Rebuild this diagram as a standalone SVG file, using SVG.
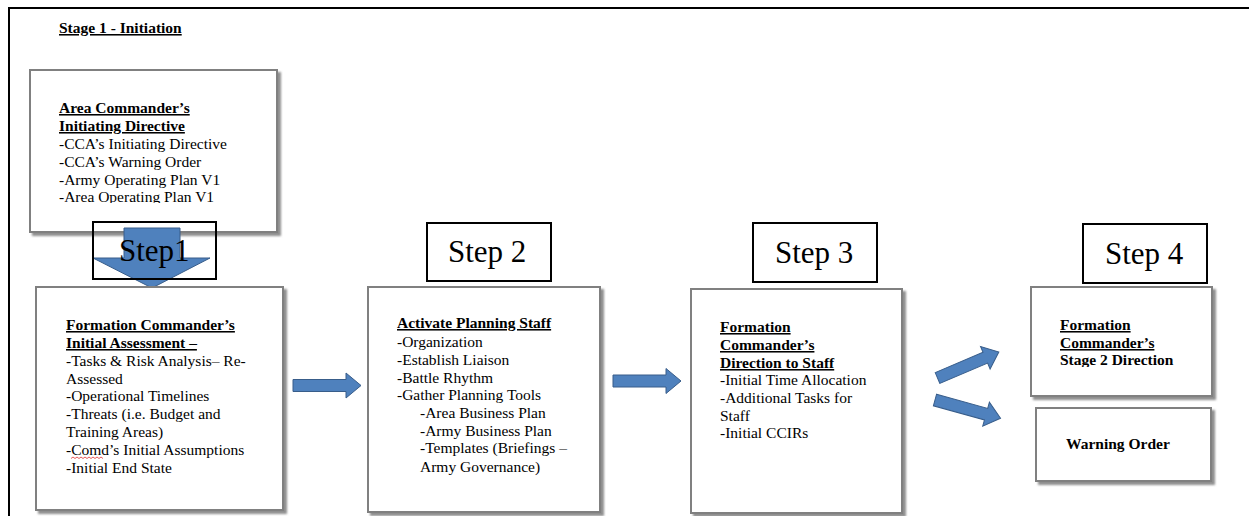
<svg xmlns="http://www.w3.org/2000/svg" width="1249" height="516" viewBox="0 0 1249 516">
  <style>
    .box { fill: #ffffff; stroke: #808080; stroke-width: 2; filter: url(#shadow); }
    .step { fill: none; stroke: #000000; stroke-width: 2; }
    .txt { font-family: "Liberation Serif", "Times New Roman", serif; font-size: 15.5px; fill: #000000; }
    .hd { font-weight: bold; text-decoration: underline; }
    .bd { font-weight: bold; }
    .steptxt { font-family: "Liberation Serif", "Times New Roman", serif; font-size: 31px; fill: #000000; }
    .arrow { fill: #4f81bd; stroke: #385d8a; stroke-width: 1; }
  </style>
  <defs>
    <filter id="shadow" x="-10%" y="-10%" width="125%" height="125%">
      <feDropShadow dx="3" dy="3" stdDeviation="1.3" flood-color="#7a7a7a" flood-opacity="0.85"/>
    </filter>
    <path id="block-arrow" d="M0,-6 H53 V-12.5 L68,0 L53,12.5 V6 H0 Z"/>
    <clipPath id="clip-area"><rect x="30" y="70" width="247" height="133"/></clipPath>
    <clipPath id="clip-stage2"><rect x="1031" y="287" width="181" height="80"/></clipPath>
    <clipPath id="clip-wo"><rect x="1036" y="408" width="175" height="44"/></clipPath>
  </defs>

  <rect width="1249" height="516" fill="#ffffff"/>
  <!-- page frame -->
  <path d="M9,516 V8 H1249" fill="none" stroke="#000000" stroke-width="2"/>

  <text class="txt hd" x="59" y="33" font-size="14.5">Stage 1 - Initiation</text>

  <g id="area-directive">
    <rect class="box" x="30" y="70" width="247" height="162"/>
    <g clip-path="url(#clip-area)">
      <text class="txt" x="59">
        <tspan class="hd" x="59" y="113">Area Commander’s</tspan>
        <tspan class="hd" x="59" y="131">Initiating Directive</tspan>
        <tspan x="59" y="149">-CCA’s Initiating Directive</tspan>
        <tspan x="59" y="167">-CCA’s Warning Order</tspan>
        <tspan x="59" y="185">-Army Operating Plan V1</tspan>
        <tspan x="59" y="202">-Area Operating Plan V1</tspan>
      </text>
    </g>
  </g>

  <g id="connectors">
    <polygon class="arrow" points="124,228 180,228 180,258 210,258 152,288 93,258 124,258"/>
    <use href="#block-arrow" class="arrow" transform="translate(293,385.5)"/>
    <use href="#block-arrow" class="arrow" transform="translate(613,381)"/>
    <use href="#block-arrow" class="arrow" transform="translate(937.5,378) rotate(-23) scale(0.98)"/>
    <use href="#block-arrow" class="arrow" transform="translate(935,400) rotate(15.5)"/>
  </g>

  <g id="step1-label">
    <rect class="step" x="93" y="222" width="123" height="57"/>
    <text class="steptxt" x="119" y="261">Step1</text>
  </g>
  <g id="step2-label">
    <rect class="step" x="427" y="223" width="124" height="58"/>
    <text class="steptxt" x="448" y="262">Step 2</text>
  </g>
  <g id="step3-label">
    <rect class="step" x="753" y="223" width="124" height="59"/>
    <text class="steptxt" x="775" y="263">Step 3</text>
  </g>
  <g id="step4-label">
    <rect class="step" x="1083" y="224" width="124" height="59"/>
    <text class="steptxt" x="1105" y="264">Step 4</text>
  </g>

  <g id="initial-assessment">
    <rect class="box" x="36" y="287" width="247" height="223"/>
    <text class="txt">
      <tspan class="hd" x="66" y="330">Formation Commander’s</tspan>
      <tspan class="hd" x="66" y="348">Initial Assessment –</tspan>
      <tspan x="66" y="366">-Tasks &amp; Risk Analysis– Re-</tspan>
      <tspan x="66" y="384">Assessed</tspan>
      <tspan x="66" y="401">-Operational Timelines</tspan>
      <tspan x="66" y="419">-Threats (i.e. Budget and</tspan>
      <tspan x="66" y="437">Training Areas)</tspan>
      <tspan x="66" y="455">-Comd’s Initial Assumptions</tspan>
      <tspan x="66" y="473">-Initial End State</tspan>
    </text>
    <path d="M71,458.5 l2,-1.5 l2,1.5 l2,-1.5 l2,1.5 l2,-1.5 l2,1.5 l2,-1.5 l2,1.5 l2,-1.5 l2,1.5 l2,-1.5 l2,1.5 l2,-1.5 l2,1.5 l2,-1.5 l2,1.5" fill="none" stroke="#e03030" stroke-width="0.8"/>
  </g>

  <g id="planning-staff">
    <rect class="box" x="368" y="287" width="232" height="225"/>
    <text class="txt">
      <tspan class="hd" x="397" y="328">Activate Planning Staff</tspan>
      <tspan x="397" y="347">-Organization</tspan>
      <tspan x="397" y="365">-Establish Liaison</tspan>
      <tspan x="397" y="383">-Battle Rhythm</tspan>
      <tspan x="397" y="400">-Gather Planning Tools</tspan>
      <tspan x="420" y="418">-Area Business Plan</tspan>
      <tspan x="420" y="436">-Army Business Plan</tspan>
      <tspan x="420" y="453">-Templates (Briefings –</tspan>
      <tspan x="420" y="472">Army Governance)</tspan>
    </text>
  </g>

  <g id="direction-to-staff">
    <rect class="box" x="691" y="289" width="211" height="224"/>
    <text class="txt">
      <tspan class="hd" x="720" y="332">Formation</tspan>
      <tspan class="hd" x="720" y="350">Commander’s</tspan>
      <tspan class="hd" x="720" y="368">Direction to Staff</tspan>
      <tspan x="720" y="385">-Initial Time Allocation</tspan>
      <tspan x="720" y="403">-Additional Tasks for</tspan>
      <tspan x="720" y="421">Staff</tspan>
      <tspan x="720" y="438">-Initial CCIRs</tspan>
    </text>
  </g>

  <g id="stage2-direction">
    <rect class="box" x="1031" y="287" width="181" height="109"/>
    <g clip-path="url(#clip-stage2)">
      <text class="txt">
        <tspan class="hd" x="1060" y="330">Formation</tspan>
        <tspan class="hd" x="1060" y="348">Commander’s</tspan>
        <tspan class="bd" x="1060" y="365">Stage 2 Direction</tspan>
      </text>
    </g>
  </g>

  <g id="warning-order">
    <rect class="box" x="1036" y="408" width="175" height="73"/>
    <g clip-path="url(#clip-wo)">
      <text class="txt bd" x="1066" y="449">Warning Order</text>
    </g>
  </g>
</svg>
